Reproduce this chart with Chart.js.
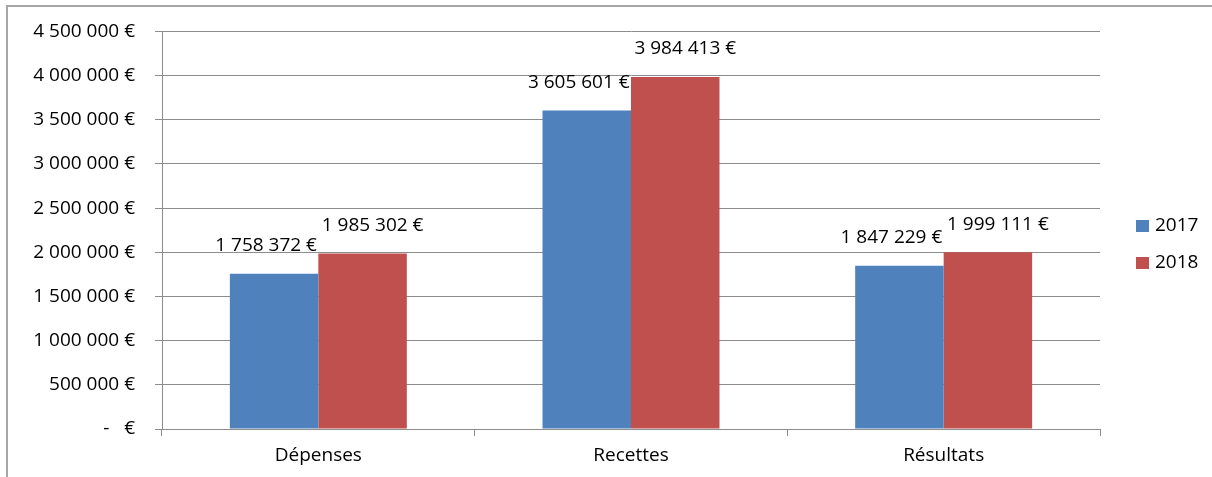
<!DOCTYPE html>
<html>
<head>
<meta charset="utf-8">
<script src="https://cdn.jsdelivr.net/npm/chart.js@4/dist/chart.umd.min.js"></script>
<style>
  html, body { margin: 0; padding: 0; background: #fff; }
  #wrap { position: absolute; left: 0; top: 0; width: 1212px; height: 477px; }
</style>
</head>
<body>
<div id="wrap"><canvas id="c" width="1212" height="477"></canvas></div>
<script>
// données du graphique
const categories = ['Dépenses', 'Recettes', 'Résultats'];
const years = ['2017', '2018'];
const values2017 = [1758372, 3605601, 1847229];
const values2018 = [1985302, 3984413, 1999111];
const yTicks = [0, 500000, 1000000, 1500000, 2000000, 2500000, 3000000, 3500000, 4000000, 4500000];

const FONT = '"Open Sans", "Liberation Sans", sans-serif';
const TEXT = '#000000';
const GRID = '#8c8c8c';

// format "1 758 372 €"
function euro(v) {
    if (v === 0) return '-   €';
    return String(Math.round(v)).replace(/\B(?=(\d{3})+(?!\d))/g, ' ') + ' €';
}

// cadre gris (haut + gauche) comme la capture d'Excel
const framePlugin = {
    id: 'frame',
    beforeDraw(chart) {
        const ctx = chart.ctx;
        ctx.save();
        ctx.strokeStyle = '#a6a6a6';
        ctx.lineWidth = 2;
        ctx.beginPath();
        ctx.moveTo(7, chart.height);
        ctx.lineTo(7, 6);
        ctx.lineTo(chart.width, 6);
        ctx.stroke();
        ctx.restore();
    }
};

// étiquettes de valeurs au-dessus des barres
const labelPlugin = {
    id: 'valueLabels',
    afterDatasetsDraw(chart) {
        const ctx = chart.ctx;
        const shift = [-8, 10];
        ctx.save();
        ctx.font = '19px ' + FONT;
        ctx.fillStyle = TEXT;
        ctx.textAlign = 'center';
        ctx.textBaseline = 'middle';
        chart.data.datasets.forEach((ds, i) => {
            chart.getDatasetMeta(i).data.forEach((bar, j) => {
                ctx.fillText(euro(ds.data[j]), bar.x + shift[i], bar.y - 28);
            });
        });
        ctx.restore();
    }
};

// légende à droite
const legendPlugin = {
    id: 'sideLegend',
    afterDraw(chart) {
        const ctx = chart.ctx;
        const x = chart.chartArea.right + 36;
        let y = 226;
        ctx.save();
        ctx.font = '19px ' + FONT;
        ctx.textBaseline = 'middle';
        ctx.textAlign = 'left';
        chart.data.datasets.forEach(ds => {
            ctx.fillStyle = ds.backgroundColor;
            ctx.fillRect(x, y - 6, 13, 12);
            ctx.fillStyle = TEXT;
            ctx.fillText(ds.label, x + 19, y);
            y += 37;
        });
        ctx.restore();
    }
};

new Chart(document.getElementById('c'), {
    type: 'bar',
    data: {
        labels: categories,
        datasets: [
            { label: years[0], data: values2017, backgroundColor: '#4f81bd' },
            { label: years[1], data: values2018, backgroundColor: '#c0504d' }
        ]
    },
    options: {
        responsive: false,
        animation: false,
        layout: { padding: { top: 27, right: 112, left: 0, bottom: 0 } },
        datasets: { bar: { categoryPercentage: 0.566, barPercentage: 1 } },
        plugins: {
            legend: { display: false },
            tooltip: { enabled: false }
        },
        scales: {
            x: {
                grid: { drawOnChartArea: false, offset: true, color: GRID, tickLength: 7 },
                border: { color: GRID },
                ticks: { font: { family: FONT, size: 19 }, color: TEXT, padding: 8 },
                afterFit(scale) { scale.height = 48; }
            },
            y: {
                min: 0,
                max: 4500000,
                afterBuildTicks(scale) { scale.ticks = yTicks.map(v => ({ value: v })); },
                grid: { color: GRID, tickLength: 7 },
                border: { color: GRID },
                ticks: {
                    font: { family: FONT, size: 19 },
                    color: TEXT,
                    padding: 20,
                    callback: v => euro(v)
                },
                afterFit(scale) { scale.width = 162; }
            }
        }
    },
    plugins: [framePlugin, labelPlugin, legendPlugin]
});
</script>
</body>
</html>
